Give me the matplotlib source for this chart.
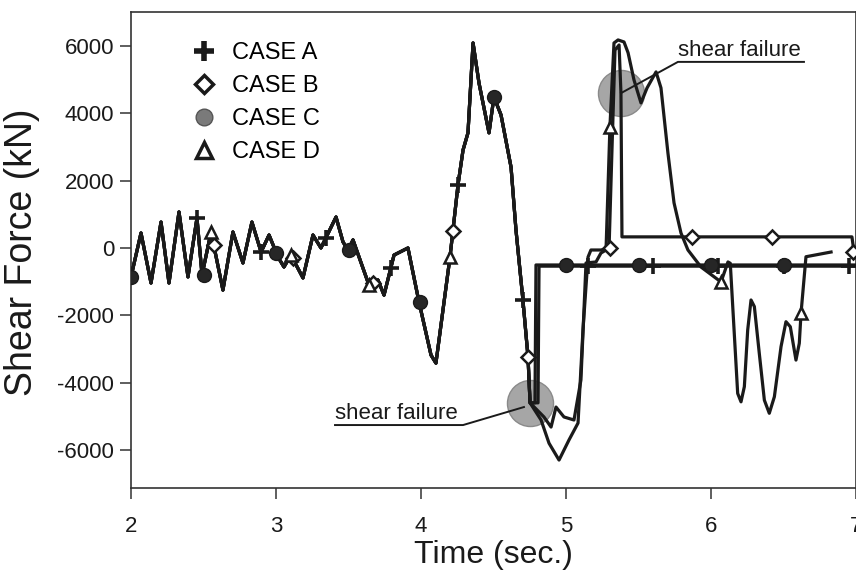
import numpy as np
import matplotlib
matplotlib.use('Agg')
import matplotlib.pyplot as plt
from matplotlib.lines import Line2D

plt.rcParams['font.family'] = ['Liberation Sans', 'DejaVu Sans']
plt.rcParams['axes.unicode_minus'] = False

# common response of all four cases up to the first shear failure
t_common = [2.000, 2.069, 2.138, 2.207, 2.262, 2.331, 2.393, 2.455, 2.490, 2.552,
            2.634, 2.703, 2.772, 2.834, 2.897, 2.952, 3.014, 3.055, 3.103, 3.186,
            3.255, 3.310, 3.414, 3.462, 3.497, 3.531, 3.641, 3.703, 3.745, 3.814,
            3.910, 3.986, 4.069, 4.103, 4.200, 4.255, 4.290, 4.324, 4.359, 4.400,
            4.469, 4.503, 4.552, 4.621, 4.655, 4.703, 4.738, 4.752]
f_common = [-860, 445, -1040, 770, -1040, 1070, -860, 890, -800, 475,
            -1250, 475, -445, 770, -120, 385, -270, -565, -210, -890,
            385, 0, 920, 180, -60, 240, -1100, -950, -1400, -210,
            0, -1600, -3180, -3420, -270, 1870, 2910, 3420, 6090, 4900,
            3420, 4485, 3950, 2400, 535, -1545, -3240, -4600]

# tails after t = 4.75
t_a = [4.807, 4.814, 7.0]
f_a = [-4600, -540, -540]
t_b = [4.828, 4.883, 4.952, 5.021, 5.083, 5.117, 5.152, 5.172, 5.241, 5.297,
       5.317, 5.338, 5.366, 5.379, 5.386, 6.972, 6.986, 7.0]
f_b = [-5110, -5800, -6300, -5700, -5200, -2440, -270, -60, -60, 0,
       2910, 5880, 6030, 4600, 330, 330, -110, -110]
t_c = [4.786, 4.793, 7.0]
f_c = [-4600, -505, -505]
t_d = [4.848, 4.897, 4.931, 4.986, 5.055, 5.103, 5.138, 5.207, 5.241, 5.276,
       5.303, 5.331, 5.359, 5.400, 5.428, 5.469, 5.517, 5.559, 5.621, 5.655,
       5.703, 5.745, 5.793, 5.841, 5.931, 6.069, 6.117, 6.133, 6.184, 6.207,
       6.230, 6.253, 6.276, 6.299, 6.333, 6.368, 6.402, 6.437, 6.483, 6.517,
       6.547, 6.586, 6.609, 6.621, 6.655, 6.828]
f_d = [-5020, -5320, -4725, -5020, -5110, -3920, -445, -415, -150, -60,
       3600, 6090, 6180, 6120, 5800, 4990, 4310, 4755, 5230, 4755,
       2820, 1340, 445, -60, -565, -1010, -415, -455, -4320, -4570,
       -4120, -2440, -1545, -1740, -3130, -4520, -4910, -4420, -2930, -2190,
       -2340, -3330, -2830, -1930, -260, -120]

# marker positions
mk_t_a = [2.455, 2.897, 3.345, 3.790, 4.255, 4.703, 5.15, 5.60, 6.05, 6.50, 6.95]
mk_f_a = [890, -120, 300, -600, 1870, -1545, -540, -540, -540, -540, -540]
mk_t_b = [2.57, 3.12, 3.67, 4.22, 4.74, 5.30, 5.87, 6.42, 6.977]
mk_f_b = [100, -300, -1030, 510, -3240, 0, 330, 330, -110]
mk_t_c = [2.0, 2.5, 3.0, 3.5, 3.99, 4.5, 5.0, 5.5, 6.0, 6.5]
mk_f_c = [-860, -800, -150, -60, -1600, 4485, -505, -505, -505, -505]
mk_t_d = [2.55, 3.10, 3.64, 4.20, 5.303, 6.069, 6.621]
mk_f_d = [475, -210, -1100, -270, 3600, -1010, -1930]

# shear failure points
fail_t = [4.752, 5.379]
fail_f = [-4600, 4600]

fig = plt.figure(figsize=(8.56, 5.74), dpi=100)
ax = fig.add_axes([131/856, 86/574, 725/856, 476/574])

for tt, ff in [(t_a, f_a), (t_b, f_b), (t_c, f_c), (t_d, f_d)]:
    ax.plot(t_common + tt, f_common + ff, color='#1a1a1a', lw=2.3,
            solid_joinstyle='round', zorder=3)

ax.scatter(fail_t, fail_f, s=1100, color='#a6a6a6', edgecolor='#8a8a8a', zorder=2)

ax.plot(mk_t_a, mk_f_a, ls='none', marker='+', ms=11, mew=2.6, color='#1a1a1a', zorder=4)
ax.plot(mk_t_b, mk_f_b, ls='none', marker='D', ms=7, mew=1.8, mfc='white', mec='#1a1a1a', zorder=4)
ax.plot(mk_t_c, mk_f_c, ls='none', marker='o', ms=10, mfc='#262626', mec='#1a1a1a', zorder=4)
ax.plot(mk_t_d, mk_f_d, ls='none', marker='^', ms=8, mew=1.8, mfc='white', mec='#1a1a1a', zorder=4)

# leader lines and labels
ax.plot([5.379, 5.772, 6.641], [4600, 5528, 5528], color='#1a1a1a', lw=1.4, zorder=3)
ax.text(5.772, 5700, 'shear failure', fontsize=16, color='#1a1a1a')
ax.plot([4.71, 4.29, 3.407], [-4725, -5260, -5260], color='#1a1a1a', lw=1.4, zorder=3)
ax.text(3.407, -5080, 'shear failure', fontsize=16, color='#1a1a1a')

ax.set_xlim(2, 7)
ax.set_ylim(-7130, 7010)
ax.set_xticks([2, 3, 4, 5, 6, 7])
ax.set_yticks([-6000, -4000, -2000, 0, 2000, 4000, 6000])
ax.tick_params(axis='both', labelsize=16, length=8, width=1.1, color='#333333', labelcolor='#1a1a1a')
ax.tick_params(axis='x', pad=12)
ax.tick_params(axis='y', pad=4)
for sp in ax.spines.values():
    sp.set_linewidth(1.2)
    sp.set_color('#333333')

ax.set_xlabel('Time (sec.)', fontsize=23, color='#1a1a1a', labelpad=2)
fig.text(22/856, 1 - 252/574, 'Shear Force (kN)', rotation=90, fontsize=27,
         ha='center', va='center', color='#1a1a1a')

handles = [
    Line2D([], [], ls='none', marker='+', ms=15, mew=4, color='#1a1a1a'),
    Line2D([], [], ls='none', marker='D', ms=9, mew=2.5, mfc='white', mec='#1a1a1a'),
    Line2D([], [], ls='none', marker='o', ms=12, mfc='#7a7a7a', mec='#555555'),
    Line2D([], [], ls='none', marker='^', ms=11, mew=2.5, mfc='white', mec='#1a1a1a'),
]
ax.legend(handles, ['CASE A', 'CASE B', 'CASE C', 'CASE D'], loc='upper left',
          bbox_to_anchor=(0.068, 0.957), frameon=False, fontsize=17,
          handletextpad=0.6, labelspacing=0.47, handlelength=1.2, borderaxespad=0)

fig.savefig('out.png', dpi=100)
